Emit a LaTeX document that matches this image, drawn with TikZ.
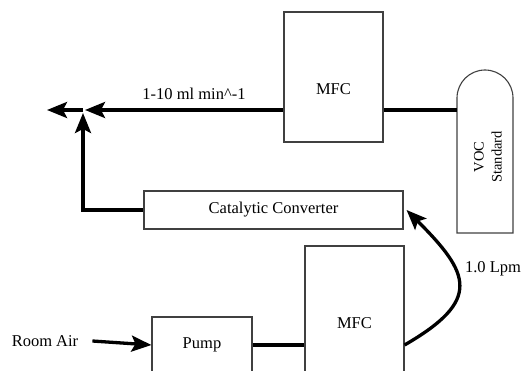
\documentclass[tikz,border=0pt]{standalone}
\usepackage{fontspec}
\setmainfont{Liberation Serif}
\usetikzlibrary{arrows.meta, positioning}

\begin{document}
\begin{tikzpicture}[
    x=1pt, y=1pt,
    box/.style={draw=black!75, line width=1.1pt, inner sep=0pt, font=\fontsize{16.5}{18}\selectfont},
    lbl/.style={font=\fontsize{16.5}{18}\selectfont, inner sep=0pt},
    pipe/.style={line width=3.3pt},
    arrow/.style={-{Stealth[length=20pt, width=16pt, inset=4pt]}, line width=3.3pt},
]
    \useasboundingbox (0,0) rectangle (527,370);
    \clip (0,0) rectangle (527,370);

    % Upper MFC and VOC standard
    \node[box, minimum width=99, minimum height=130] (mfctop) at (333.5,293) {};
    \node[lbl] (mfctoplbl) at (333.5,281) {MFC};
    \draw[draw=black!75, line width=1.1pt] (457,137) -- (457,272) arc[start angle=180, end angle=0, radius=28] -- (513,137) -- cycle;
    \node[font=\fontsize{14.5}{18}\selectfont, rotate=90, align=center, inner sep=0pt] (voc) at (488,213) {VOC\\Standard};
    \coordinate (vocin) at (457,260);

    % Outlet junction
    \coordinate (junc) at (83,260);
    \coordinate (outlet) at (47,260);

    % Catalytic converter
    \node[box, minimum width=259, minimum height=38] (cat) at (273.5,160) {Catalytic Converter};

    % Lower MFC and pump
    \node[box, minimum width=99, minimum height=154] (mfcbot) at (354.5,47) {MFC};
    \node[box, minimum width=100, minimum height=56] (pump) at (202,25) {Pump};
    \node[lbl] (air) at (45,29) {Room Air};

    % Flows
    \draw[pipe] (mfctop.east |- vocin) -- (vocin);
    \draw[arrow] (mfctop.west |- junc) -- ([xshift=2]junc);
    \draw[arrow] (junc) -- (outlet);
    \node[lbl] (flowlbl) at (194,276) {1-10 ml min\textasciicircum-1};
    \draw[arrow] (cat.west) -| ([yshift=-3]junc);
    \draw[arrow] ([xshift=14]air.east) -- (pump.west);
    \draw[pipe] (pump.east) -- (pump.east -| mfcbot.west);
    \draw[arrow] (mfcbot.east |- pump) to[out=30, in=-45, looseness=1.7] ([xshift=3]cat.east);
    \node[lbl] (lpm) at (493,101) {1.0 Lpm};
\end{tikzpicture}
\end{document}
